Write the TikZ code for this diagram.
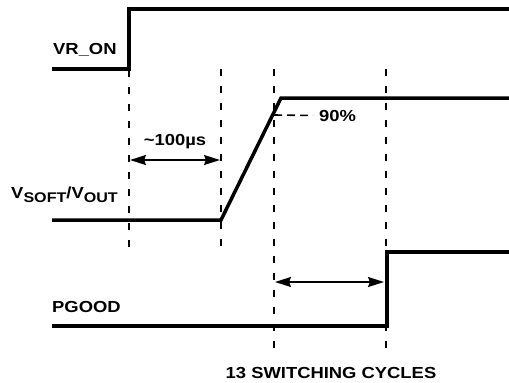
\documentclass[tikz,border=0pt]{standalone}
\usepackage{fontspec}
\setmainfont{Liberation Sans}[FakeStretch=1.15]
\usetikzlibrary{arrows.meta}
\newcommand{\lowsub}[1]{\raisebox{-4.5pt}{\fontsize{14}{16}\selectfont #1}}
\begin{document}
\begin{tikzpicture}[x=1pt,y=-1pt,
    wave/.style={line width=3.5pt},
    mark line/.style={line width=1.6pt,dash pattern=on 7pt off 10pt},
    span/.style={line width=1.8pt,{Stealth[length=16pt,width=10pt,inset=2pt]}-{Stealth[length=16pt,width=10pt,inset=2pt]}},
    lbl/.style={font=\fontsize{16}{18}\selectfont\bfseries,inner sep=0pt}]
      \useasboundingbox (0,0) rectangle (509,383);

      % waveforms
      \draw[wave] (52,69) -- (129,69) -- (129,9) -- (509,9);
      \draw[wave] (52,220) -- (221,220) -- (281,98) -- (509,98);
      \draw[wave] (52,326) -- (387,326) -- (387,252) -- (509,252);

      % vertical markers
      \draw[mark line] (129,70) -- (129,253);
      \draw[mark line] (221,69) -- (221,253);
      \draw[mark line] (274,69) -- (274,355);
      \draw[mark line] (386,69) -- (386,355);

      % 90%
      \coordinate (p90) at (274,115);
      \node[lbl,anchor=base west] (n90) at (319,121) {90\%};
      \draw[mark line,dash pattern=on 8pt off 5pt] (p90) -- (n90.west -| 313,0);

      % arrows
      \coordinate (a1) at (130,160);
      \coordinate (a2) at (220,160);
      \draw[span] (a1) -- (a2);
      \coordinate (b1) at (275,282);
      \coordinate (b2) at (384,282);
      \draw[span] (b1) -- (b2);

      % labels
      \node[lbl,anchor=base west] (vron) at (53,54) {VR\_ON};
      \node[lbl,anchor=base east] (vsoft) at (118,198) {V\lowsub{SOFT}/V\lowsub{OUT}};
      \node[lbl,anchor=base west] (pgood) at (52,312) {PGOOD};
      \node[lbl,anchor=base] (t100) at (175,145) {\textasciitilde100µs};
      \node[lbl,anchor=base] (cycles) at (331,378) {13 SWITCHING CYCLES};
\end{tikzpicture}
\end{document}
